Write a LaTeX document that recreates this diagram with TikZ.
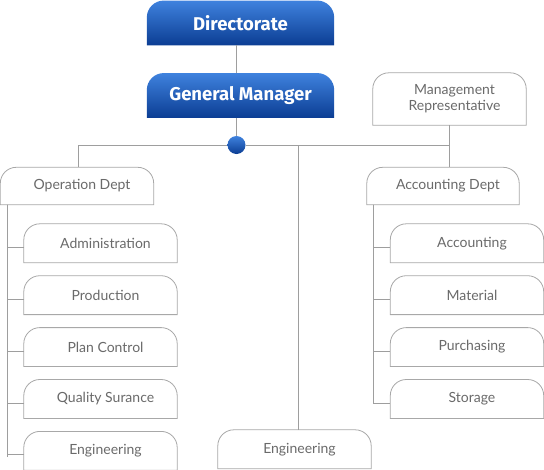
\documentclass[tikz,border=0pt]{standalone}
\usepackage{fontspec}
\setmainfont{Lato}
\newfontfamily\headfont{Fira Sans}
\usetikzlibrary{positioning, backgrounds}

\definecolor{boxgray}{HTML}{A8A8A8}
\definecolor{linegray}{HTML}{9E9E9E}
\definecolor{textgray}{HTML}{6A6A6A}
\definecolor{bluetop}{HTML}{3F82DE}
\definecolor{bluebot}{HTML}{0B3D93}

\begin{document}
\begin{tikzpicture}[x=1pt, y=-1pt, node distance=13pt, font=\fontsize{14}{16}\selectfont]
  \tikzstyle{tabbox}=[inner sep=0pt, minimum width=153pt, minimum height=38.5pt, text=textgray]
  \tikzstyle{childbox}=[tabbox, execute at begin node=\hspace*{10pt}]
  \tikzstyle{headbox}=[inner sep=0pt, minimum width=187pt, minimum height=44.5pt, text=white, font=\headfont\bfseries\fontsize{18.5}{22}\selectfont]
  \tikzstyle{wire}=[draw=linegray, line width=0.8pt]

  \useasboundingbox (0,0) rectangle (544,469);

  \node[headbox] (dir) at (240.5,23) {Directorate};
  \node[headbox] (gm) at (240.5,95.5) {General Manager};
  \node[circle, minimum size=18pt, inner sep=0pt, top color=bluetop, bottom color=bluebot] (hub) at (236.5,145) {};

  \node[childbox, minimum height=37pt] (ops) at (77,186) {Operation Dept};
  \node[tabbox, minimum height=52pt, align=center] (mr) at (449.5,99) {\hspace*{10pt}Management\\\hspace*{10pt}Representative};
  \node[childbox, minimum width=152pt, minimum height=37pt] (acc) at (443,186) {Accounting Dept};
  \node[childbox] (eng) at (294.5,449.25) {Engineering};

  % operation dept
  \node[childbox] (adm) at (100.5,243.25) {Administration};
  \node[childbox, below=of adm] (prd) {Production};
  \node[childbox, below=of prd] (plc) {Plan Control};
  \node[childbox, below=of plc] (qas) {Quality Surance};
  \node[childbox, below=of qas] (eng1) {Engineering};

  % accounting dept
  \node[childbox] (acn) at (467,243.25) {Accounting};
  \node[childbox, below=of acn] (mat) {Material};
  \node[childbox, below=of mat] (pur) {Purchasing};
  \node[childbox, below=of pur] (sto) {Storage};

  \begin{scope}[on background layer]
    \foreach \n in {ops,mr,acc,eng,adm,prd,plc,qas,eng1,acn,mat,pur,sto}
      \draw[draw=boxgray, fill=white, line width=0.8pt] (\n.south west) -- ([yshift=-16pt]\n.north west)
        arc[start angle=180, end angle=90, radius=16pt] -- ([xshift=-16pt]\n.north east)
        arc[start angle=90, end angle=0, radius=16pt] -- (\n.south east) -- cycle;
    \foreach \n in {dir,gm}
      \path[top color=bluetop, bottom color=bluebot] (\n.south west) -- ([yshift=-17pt]\n.north west)
        arc[start angle=180, end angle=90, radius=17pt] -- ([xshift=-17pt]\n.north east)
        arc[start angle=90, end angle=0, radius=17pt] -- (\n.south east) -- cycle;
  \end{scope}

  \draw[wire] (dir.south -| hub) -- (gm.north -| hub);
  \draw[wire] (gm.south -| hub) -- (hub);
  \draw[wire] ([xshift=1pt]ops.north) |- (hub);
  \draw[wire] (hub) -| (mr.south);
  \draw[wire] (mr.south) -- (acc.north -| mr.south);
  \draw[wire] (hub -| eng.north) ++(3.5,0) -- ([xshift=3.5pt]eng.north);

  \foreach \n in {adm,prd,plc,qas,eng1}
    \draw[wire] ([xshift=7pt]ops.south west) |- ([yshift=-4pt]\n.west);
  \draw[wire] ([yshift=-4pt]eng1.west -| 7,0) -- ++(0,2);
  \foreach \n in {acn,mat,pur,sto}
    \draw[wire] ([xshift=7pt]acc.south west) |- ([yshift=-4pt]\n.west);
\end{tikzpicture}
\end{document}
